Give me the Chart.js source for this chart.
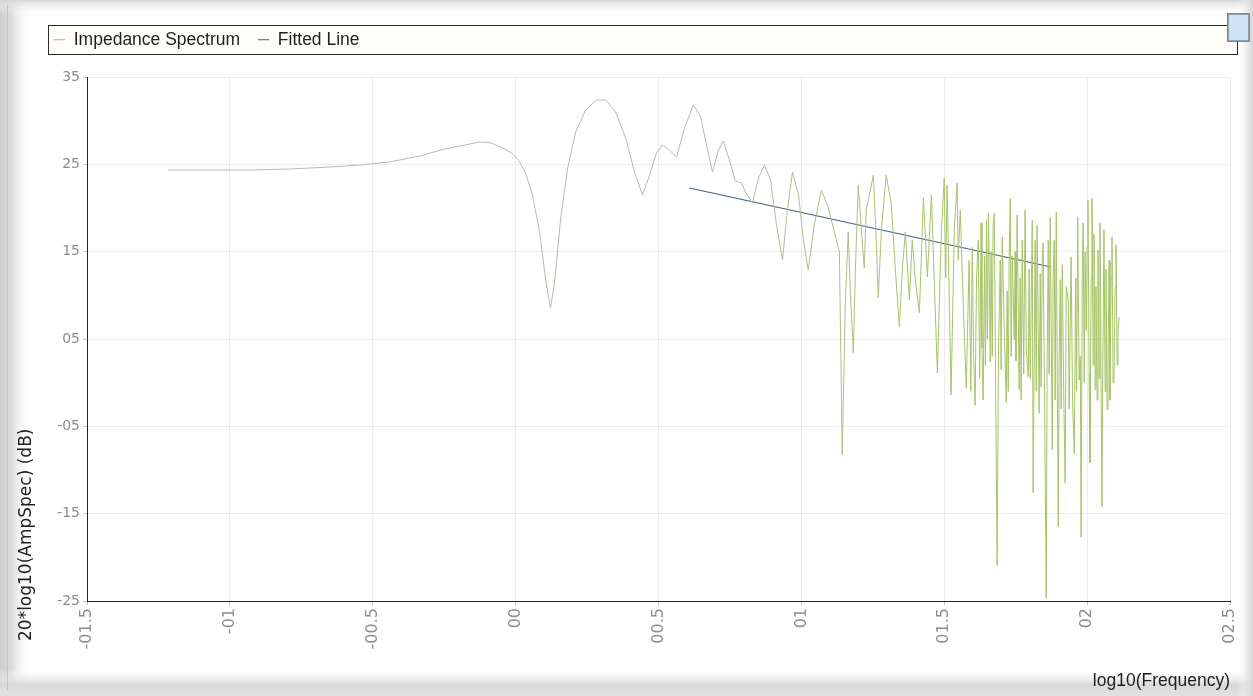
<!DOCTYPE html>
<html>
<head>
<meta charset="utf-8">
<title>Impedance Spectrum</title>
<script src="https://cdn.jsdelivr.net/npm/chart.js@4.4.1/dist/chart.umd.min.js"></script>
<style>
  html, body { margin: 0; padding: 0; background: #fff; overflow: hidden; }
  #wrap { width: 1253px; height: 696px; position: relative; }
</style>
</head>
<body>
<div id="wrap"><canvas id="chart" width="1253" height="696"></canvas></div>
<script>
// log10 of frequency for each spectrum sample
const logFreq = [
  -1.217, -1.070, -0.930, -0.790, -0.650, -0.545, -0.441, -0.336, -0.248, -0.178,
  -0.126, -0.084, -0.045, -0.014, 0.010, 0.035, 0.059, 0.084, 0.105, 0.122,
  0.136, 0.157, 0.182, 0.210, 0.245, 0.283, 0.315, 0.350, 0.385, 0.416,
  0.444, 0.469, 0.493, 0.514, 0.538, 0.563, 0.591, 0.622, 0.647, 0.668,
  0.689, 0.710, 0.727, 0.748, 0.769, 0.790, 0.808, 0.829, 0.850, 0.871,
  0.892, 0.913, 0.934, 0.951, 0.969, 0.990, 1.007, 1.024, 1.045, 1.070,
  1.091, 1.112, 1.133, 1.143, 1.154, 1.164, 1.171, 1.182, 1.189, 1.199,
  1.210, 1.220, 1.227, 1.238, 1.252, 1.262, 1.269, 1.280, 1.297, 1.315,
  1.329, 1.343, 1.353, 1.364, 1.378, 1.388, 1.399, 1.413, 1.427, 1.441,
  1.455, 1.465, 1.476, 1.490, 1.500, 1.505, 1.510, 1.524, 1.535, 1.545,
  1.549, 1.556, 1.566, 1.577,
  1.587, 1.593, 1.598, 1.603, 1.608, 1.613, 1.619, 1.624, 1.629, 1.632,
  1.636, 1.641, 1.644, 1.648, 1.651, 1.655, 1.661, 1.664, 1.668, 1.671,
  1.675, 1.685, 1.690, 1.696, 1.699, 1.703, 1.710, 1.717, 1.720, 1.724,
  1.727, 1.731, 1.734, 1.738, 1.745, 1.748, 1.751, 1.755, 1.762, 1.766,
  1.769, 1.773, 1.778, 1.783, 1.787, 1.794, 1.797, 1.801, 1.808, 1.811,
  1.815, 1.818, 1.822, 1.825, 1.832, 1.836, 1.839, 1.843, 1.846, 1.851,
  1.857, 1.860, 1.864, 1.867, 1.871, 1.878, 1.881, 1.885, 1.888, 1.892,
  1.899, 1.902, 1.906, 1.909, 1.913, 1.918, 1.923, 1.927, 1.934, 1.937,
  1.944, 1.949, 1.955, 1.960, 1.963, 1.967, 1.972, 1.976, 1.979, 1.983,
  1.986, 1.990, 1.993, 1.997, 2.000, 2.003, 2.007, 2.010, 2.014, 2.017,
  2.021, 2.024, 2.028, 2.031, 2.035, 2.038, 2.042, 2.045, 2.052, 2.055,
  2.059, 2.063, 2.066, 2.070, 2.073, 2.077, 2.080, 2.084, 2.087, 2.091,
  2.094, 2.098, 2.101, 2.105, 2.108, 2.112
];

// 20*log10 of the amplitude spectrum (dB)
const ampDb = [
  24.35, 24.35, 24.35, 24.47, 24.69, 24.92, 25.27, 25.95, 26.76, 27.21,
  27.56, 27.44, 26.87, 26.30, 25.50, 24.01, 21.49, 17.25, 11.75, 8.55,
  11.41, 18.63, 24.58, 28.70, 31.22, 32.37, 32.37, 30.99, 28.02, 24.12,
  21.49, 23.78, 26.30, 27.21, 26.64, 25.84, 29.16, 31.79, 30.53, 27.21,
  24.12, 26.64, 27.67, 25.50, 23.09, 22.86, 21.60, 20.57, 23.43, 24.92,
  23.21, 18.05, 14.04, 19.77, 24.12, 21.49, 16.34, 12.90, 18.05, 22.06,
  20.34, 17.71, 14.96, -8.28, 9.46, 17.25, 10.61, 3.40, 12.90, 22.63,
  17.48, 13.13, 19.77, 21.49, 23.78, 16.34, 9.69, 17.48, 23.78, 20.34,
  12.90, 6.37, 12.90, 17.25, 9.46, 16.34, 11.75, 7.98, 21.14, 12.10,
  21.49, 11.75, 1.10, 17.48, 23.43, 12.00, 22.63, -1.41, 17.48, 22.86,
  14.00, 19.77, 9.46, -0.61,
  14.0, -1.0, 15.5, 3.0, -2.6, 12.0, 16.3, 0.5, 18.3, 4.0,
  -2.0, 14.5, 2.0, 18.6, 5.0, 19.4, 2.4, 15.0, 3.0, 18.0,
  19.4, -20.9, 4.0, 14.0, 1.5, 16.7, 6.0, -2.3, 10.5, -1.0,
  14.0, 21.1, 3.0, 14.5, 4.9, 15.0, 2.5, 19.2, -0.8, 12.0,
  -2.0, 16.3, 1.0, 19.8, 4.0, 0.7, 13.0, 0.5, 18.6, -12.6,
  3.0, 16.3, -1.0, 18.0, -3.5, 12.5, -0.5, 14.0, 16.0, -1.5,
  -24.7, 2.0, 16.3, 1.0, 18.9, -7.7, 12.0, 16.3, -2.0, 19.5,
  -16.5, 2.0, 11.8, -3.0, 13.5, -1.0, -11.5, 11.0, 9.5, -3.0,
  14.4, -2.0, -8.1, 12.0, -1.0, 19.0, 0.3, 3.0, -17.7, 12.0,
  18.3, 0.0, 15.0, 6.0, 15.5, 20.9, 1.0, -9.2, 12.0, 21.1,
  2.0, 17.0, -0.8, 11.0, -2.0, 15.2, 0.5, 18.3, -14.2, 2.0,
  17.5, -1.0, 13.0, -3.1, 2.0, 14.0, -2.0, 12.0, 16.7, 0.0,
  0.3, 11.0, 15.8, 2.0, 6.0, 7.5
];

// straight-line fit over the upper band
const fitLogFreq = [0.608, 1.874];
const fitDb = [22.29, 13.24];

// axis tick labels, in ascending order of value
const xTickLabels = ['-01.5', '-01', '-00.5', '00', '00.5', '01', '01.5', '02', '02.5'];
const yTickLabels = ['-25', '-15', '-05', '05', '15', '25', '35'];

const seriesNames = ['Impedance Spectrum', 'Fitted Line'];
const xTitle = 'log10(Frequency)';
const yTitle = '20*log10(AmpSpec) (dB)';

const spectrumPoints = logFreq.map((x, i) => ({ x: x, y: ampDb[i] }));
const fitPoints = fitLogFreq.map((x, i) => ({ x: x, y: fitDb[i] }));

// thin lines look greyish where sparse and greener where the trace is dense
function spectrumColor(x) {
  const t = Math.max(0, Math.min(1, (x - 0.75) / 0.75));
  const a = [188, 185, 172], b = [166, 196, 104];
  const c = a.map((v, k) => Math.round(v + (b[k] - v) * t));
  return 'rgb(' + c.join(',') + ')';
}

// window frame, legend panel and y-axis title
const framePlugin = {
  id: 'frame',
  afterInit(chart) {
    const legend = chart.legend;
    if (legend) {
      const fit = legend.fit;
      legend.fit = function () { fit.call(this); this.height = 64; };
    }
  },
  beforeDraw(chart) {
    const ctx = chart.ctx, W = chart.width, H = chart.height;
    ctx.save();
    ctx.fillStyle = '#ffffff';
    ctx.fillRect(0, 0, W, H);
    let g = ctx.createLinearGradient(0, 0, 32, 0);
    g.addColorStop(0, 'rgba(205,205,205,1)');
    g.addColorStop(0.35, 'rgba(215,215,215,0.9)');
    g.addColorStop(1, 'rgba(255,255,255,0)');
    ctx.fillStyle = g; ctx.fillRect(0, 0, 32, H);
    g = ctx.createLinearGradient(0, 0, 0, 16);
    g.addColorStop(0, 'rgba(215,215,215,1)');
    g.addColorStop(1, 'rgba(255,255,255,0)');
    ctx.fillStyle = g; ctx.fillRect(0, 0, W, 16);
    g = ctx.createLinearGradient(0, 668, 0, H);
    g.addColorStop(0, 'rgba(255,255,255,0)');
    g.addColorStop(0.6, 'rgba(216,216,216,1)');
    g.addColorStop(1, 'rgba(226,226,226,1)');
    ctx.fillStyle = g; ctx.fillRect(0, 668, W, H - 668);
    g = ctx.createLinearGradient(1236, 0, W, 0);
    g.addColorStop(0, 'rgba(255,255,255,0)');
    g.addColorStop(1, 'rgba(212,212,212,1)');
    ctx.fillStyle = g; ctx.fillRect(1236, 0, W - 1236, H);
    ctx.strokeStyle = '#c4c4c4'; ctx.lineWidth = 1;
    ctx.beginPath(); ctx.moveTo(7.5, 5); ctx.lineTo(7.5, 690); ctx.stroke();
    // legend panel
    ctx.fillStyle = '#fffef6';
    ctx.fillRect(48, 25, 1190, 30);
    ctx.strokeStyle = '#2a2a2a';
    ctx.strokeRect(48.5, 25.5, 1189, 29);
    ctx.restore();
  },
  afterDraw(chart) {
    const ctx = chart.ctx;
    ctx.save();
    ctx.translate(31, 641);
    ctx.rotate(-Math.PI / 2);
    ctx.font = '17px "DejaVu Sans", Verdana, sans-serif';
    ctx.fillStyle = '#222';
    ctx.textAlign = 'left';
    ctx.textBaseline = 'alphabetic';
    ctx.fillText(yTitle, 0, 0);
    ctx.restore();
    // small options button in the corner
    ctx.save();
    ctx.fillStyle = '#cfe2f6';
    ctx.fillRect(1228, 14, 21, 27);
    ctx.strokeStyle = '#55606c';
    ctx.setLineDash([1, 1]);
    ctx.strokeRect(1228.5, 14.5, 20, 26);
    ctx.setLineDash([]);
    ctx.strokeStyle = '#7a8796';
    ctx.strokeRect(1227.5, 13.5, 22, 28);
    ctx.restore();
  }
};

const yTickFont = { family: '"DejaVu Sans", Verdana, sans-serif', size: 14 };
const xTickFont = { family: '"DejaVu Sans", Verdana, sans-serif', size: 16 };
const textFont = { family: '"Liberation Sans", Arial, sans-serif', size: 17.5 };

new Chart(document.getElementById('chart'), {
  type: 'line',
  data: {
    datasets: [
      {
        label: seriesNames[0],
        data: spectrumPoints,
        borderColor: 'rgb(170,178,140)',
        backgroundColor: 'rgb(170,178,140)',
        borderWidth: 1,
        pointRadius: 0,
        tension: 0,
        segment: { borderColor: c => spectrumColor(c.p0.parsed.x) }
      },
      {
        label: seriesNames[1],
        data: fitPoints,
        borderColor: '#46627f',
        backgroundColor: '#555b60',
        borderWidth: 1.2,
        pointRadius: 0
      }
    ]
  },
  options: {
    responsive: false,
    animation: false,
    layout: { padding: { left: 36, right: 23, top: 13, bottom: 0 } },
    plugins: {
      legend: {
        position: 'top',
        align: 'start',
        labels: {
          boxWidth: 11,
          boxHeight: 1,
          padding: 18,
          color: '#1e1e1e',
          font: textFont,
          generateLabels(chart) {
            return Chart.defaults.plugins.legend.labels.generateLabels(chart).map(l => {
              l.lineWidth = 0;
              return l;
            });
          }
        }
      },
      tooltip: { enabled: false }
    },
    scales: {
      x: {
        type: 'linear',
        min: -1.5,
        max: 2.5,
        ticks: {
          stepSize: 0.5,
          minRotation: 90,
          maxRotation: 90,
          autoSkip: false,
          padding: 3,
          color: '#8d8d8d',
          font: xTickFont,
          callback: (v, i) => xTickLabels[i]
        },
        grid: { color: '#ececec', tickLength: 4, tickColor: '#c8c8c8' },
        border: { color: '#202020', width: 1 },
        title: { display: true, text: xTitle, align: 'end', color: '#1e1e1e', font: textFont },
        afterFit(scale) { scale.height = 95; }
      },
      y: {
        type: 'linear',
        min: -25,
        max: 35,
        ticks: {
          stepSize: 10,
          padding: 3,
          color: '#8d8d8d',
          font: yTickFont,
          callback: (v, i) => yTickLabels[i]
        },
        grid: { color: '#ececec', tickLength: 4, tickColor: '#c8c8c8' },
        border: { color: '#202020', width: 1 },
        afterFit(scale) { scale.width = 51; }
      }
    }
  },
  plugins: [framePlugin]
});
</script>
</body>
</html>
